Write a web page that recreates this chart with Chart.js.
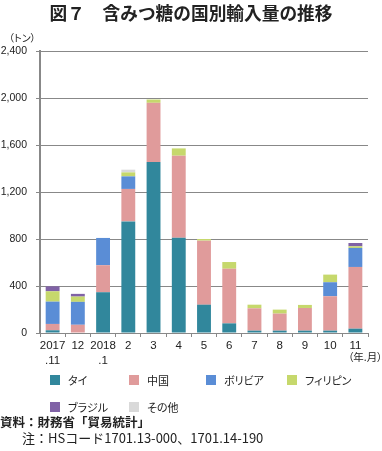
<!DOCTYPE html>
<html><head><meta charset="utf-8">
<script src="https://cdn.jsdelivr.net/npm/chart.js@4"></script>
<style>
html,body{margin:0;padding:0;background:#fff;}
body{width:382px;height:451px;position:relative;overflow:hidden;font-family:"Liberation Sans","Noto Sans CJK JP",sans-serif;color:#222;}
#wrap{position:absolute;left:0;top:0;width:382px;height:451px;}
.abs{position:absolute;white-space:nowrap;}
.jp{font-family:"Noto Sans CJK JP",sans-serif;}
#title{left:0;top:0;width:382px;text-align:center;font-size:17.7px;font-weight:700;line-height:24px;}
#unit{left:9px;top:31px;font-size:10px;line-height:14px;font-feature-settings:"palt";}
#xunit{left:348px;top:350px;font-size:10.5px;line-height:14px;font-feature-settings:"palt";}
.lg{position:absolute;height:14px;line-height:14px;font-size:11px;font-feature-settings:"palt";white-space:nowrap;}
.lg i{position:absolute;left:0;top:2px;width:10px;height:10px;}
.lg span{position:absolute;left:18px;top:0;}
#src{left:0;top:413px;font-size:12.5px;font-weight:700;line-height:18px;}
#note{left:22px;top:429px;font-size:13px;line-height:18px;}
</style></head>
<body>
<div id="wrap"><canvas id="c" width="382" height="451"></canvas></div>
<div id="title" class="abs jp">図７　含みつ糖の国別輸入量の推移</div>
<div id="unit" class="abs jp">（トン）</div>
<div id="xunit" class="abs jp">（年.月）</div>
<div id="legend"></div>
<div id="src" class="abs jp">資料：財務省「貿易統計」</div>
<div id="note" class="abs jp">注：HSコード1701.13-000、1701.14-190</div>
<script>
const categories = [['2017','.11'],'12',['2018','.1'],'2','3','4','5','6','7','8','9','10','11'];
const seriesNames = ['タイ','中国','ボリビア','フィリピン','ブラジル','その他'];
const thai      = [23, 0, 347, 950, 1455, 811, 241, 82, 20, 20, 20, 20, 37];
const china     = [54, 70, 230, 276, 504, 698, 545, 465, 190, 145, 193, 293, 525];
const bolivia   = [190, 195, 232, 107, 0, 0, 0, 0, 0, 0, 0, 119, 162];
const philippines = [88, 45, 0, 34, 28, 62, 14, 57, 31, 34, 26, 65, 14];
const brazil    = [42, 23, 0, 0, 0, 0, 0, 0, 0, 0, 0, 0, 28];
const others    = [0, 0, 0, 23, 0, 0, 0, 0, 0, 0, 0, 0, 0];
const yTicks = [0, 400, 800, 1200, 1600, 2000, 2400];

const seriesValues = [thai, china, bolivia, philippines, brazil, others];
const colors = ['#31879C', '#E09B9B', '#5A8DD6', '#C6D86C', '#8062A6', '#D9D9D9'];
const legendPos = [[50,373],[129,373],[206,373],[287,373],[50,400],[129,400]];

const lg = document.getElementById('legend');
seriesNames.forEach((n, i) => {
  const d = document.createElement('div');
  d.className = 'lg jp';
  d.style.left = legendPos[i][0] + 'px';
  d.style.top = legendPos[i][1] + 'px';
  d.innerHTML = '<i style="background:' + colors[i] + '"></i><span>' + n + '</span>';
  lg.appendChild(d);
});

new Chart(document.getElementById('c'), {
  type: 'bar',
  data: {
    labels: categories,
    datasets: seriesNames.map((n, i) => ({
      label: n,
      data: seriesValues[i],
      backgroundColor: colors[i],
      borderWidth: 0,
      categoryPercentage: 1,
      barPercentage: 0.55
    }))
  },
  options: {
    responsive: false,
    animation: false,
    devicePixelRatio: 1,
    layout: { padding: { top: 51, right: 14, left: 0, bottom: 0 } },
    plugins: { legend: { display: false }, tooltip: { enabled: false }, title: { display: false } },
    scales: {
      x: {
        stacked: true,
        offset: true,
        afterFit: s => { s.height = 451 - 333; },
        grid: { display: true, drawOnChartArea: false, drawTicks: true, tickLength: 4, color: '#888', offset: true },
        border: { display: true, color: '#888', width: 1 },
        ticks: { color: '#222', padding: 2, maxRotation: 0, autoSkip: false,
                 font: { family: '"Liberation Sans","Noto Sans CJK JP",sans-serif', size: 11.5, lineHeight: 1.25 } }
      },
      y: {
        stacked: true,
        min: 0, max: 2400,
        afterFit: s => { s.width = 40; },
        afterBuildTicks: s => { s.ticks = yTicks.map(v => ({ value: v })); },
        grid: { color: '#888', lineWidth: 1, drawTicks: true, tickLength: 4 },
        border: { display: true, color: '#888', width: 2 },
        ticks: { color: '#222', padding: 9,
                 font: { family: '"Liberation Sans",sans-serif', size: 10.5 },
                 callback: v => v.toLocaleString('en-US') }
      }
    }
  }
});
</script>
</body></html>
